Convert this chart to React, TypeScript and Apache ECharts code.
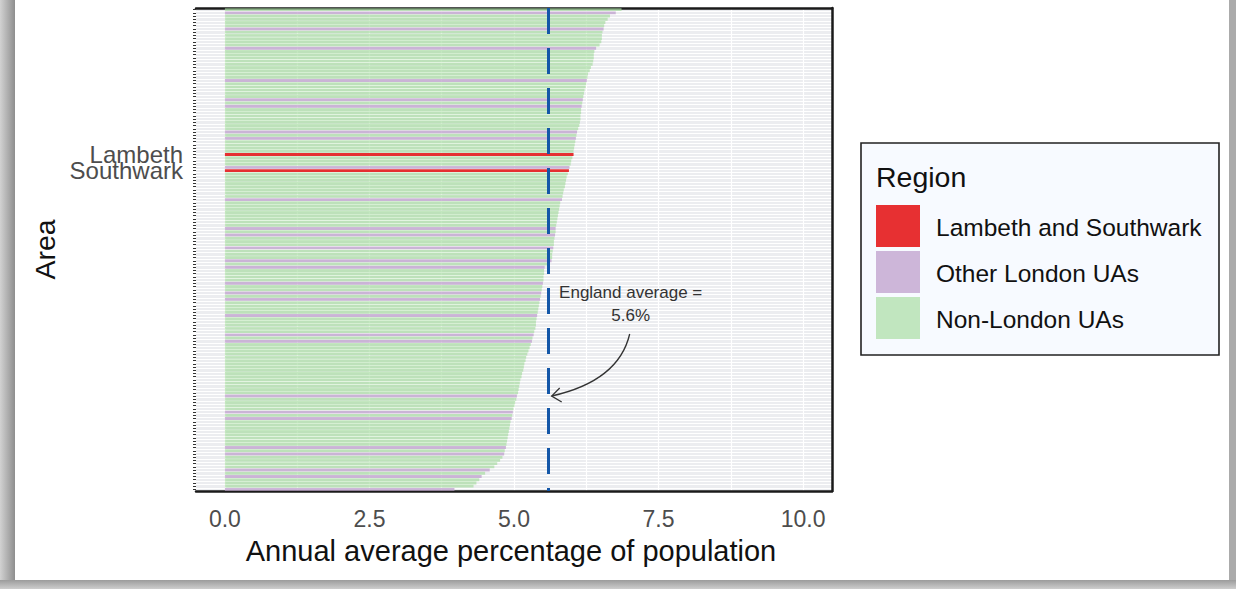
import React, { useEffect, useRef } from "react";
import * as echarts from "echarts";

const FONT = "'Liberation Sans', Arial, Helvetica, sans-serif";

// Annual average percentage of population for each unitary authority, highest first
const areaValues = [
  6.86, 6.76, 6.66, 6.62, 6.58, 6.56, 6.55, 6.53, 6.52, 6.52,
  6.51, 6.48, 6.42, 6.39, 6.38, 6.38, 6.37, 6.36, 6.33, 6.31,
  6.28, 6.27, 6.26, 6.25, 6.24, 6.22, 6.21, 6.2, 6.19, 6.18,
  6.17, 6.16, 6.16, 6.15, 6.15, 6.14, 6.13, 6.11, 6.09, 6.08,
  6.07, 6.06, 6.05, 6.04, 6.03, 6.03, 6.01, 5.99, 5.98, 5.96,
  5.95, 5.93, 5.91, 5.9, 5.89, 5.88, 5.86, 5.85, 5.84, 5.83,
  5.8, 5.79, 5.78, 5.77, 5.76, 5.75, 5.74, 5.73, 5.72, 5.72,
  5.71, 5.7, 5.69, 5.69, 5.68, 5.67, 5.66, 5.66, 5.65, 5.6,
  5.53, 5.52, 5.52, 5.51, 5.51, 5.5, 5.49, 5.48, 5.47, 5.46,
  5.45, 5.44, 5.43, 5.42, 5.41, 5.4, 5.39, 5.38, 5.38, 5.37,
  5.35, 5.34, 5.32, 5.31, 5.29, 5.27, 5.25, 5.23, 5.21, 5.2,
  5.18, 5.17, 5.16, 5.14, 5.13, 5.11, 5.1, 5.09, 5.08, 5.07,
  5.05, 5.04, 5.02, 5.01, 4.99, 4.98, 4.97, 4.96, 4.94, 4.93,
  4.92, 4.91, 4.9, 4.89, 4.88, 4.87, 4.86, 4.84, 4.83, 4.8,
  4.76, 4.71, 4.66, 4.58, 4.5, 4.44, 4.4, 4.35, 4.3, 3.97,
];

// Rows (in the ranking above) that are London boroughs other than Lambeth and Southwark
const otherLondonRows = [
  1, 6, 12, 22, 28, 30, 38, 40, 49, 59, 68, 70, 74, 78, 80, 85, 88, 90, 95,
  101, 103, 120, 125, 127, 136, 138, 143, 145, 149,
];

// Rows that are labelled on the area axis
const highlightedAreas: Record<number, string> = { 45: "Lambeth", 50: "Southwark" };

const englandAverage = 5.6;
const xTickValues = [0, 2.5, 5, 7.5, 10];
const xGridValues = [0, 1.25, 2.5, 3.75, 5, 6.25, 7.5, 8.75, 10];

const regionNames = ["Lambeth and Southwark", "Other London UAs", "Non-London UAs"];
const regionColors = ["#E41A1C", "#C2A5CF", "#A6DBA0"];
const regionOpacity = [0.9, 0.8, 0.68];

const areaIds = areaValues.map((_, i) => highlightedAreas[i] ?? `UA ${i + 1}`);

function regionOf(row: number): number {
  if (highlightedAreas[row] !== undefined) return 0;
  if (otherLondonRows.includes(row)) return 1;
  return 2;
}

const GRID = { left: 196, top: 8, width: 636, height: 483 };

function legendGraphic() {
  const children: any[] = [
    {
      type: "rect",
      shape: { x: 0, y: 0, width: 358, height: 212 },
      style: { fill: "#F7FAFF", stroke: "#222222", lineWidth: 1.6 },
    },
    {
      type: "text",
      x: 15,
      y: 34,
      style: {
        text: "Region",
        font: `28.5px ${FONT}`,
        fill: "#111111",
        verticalAlign: "middle",
      },
    },
  ];
  regionNames.forEach((name, i) => {
    const top = 62 + i * 46;
    children.push({
      type: "rect",
      shape: { x: 15, y: top, width: 44, height: 42 },
      style: { fill: regionColors[i], opacity: regionOpacity[i] },
    });
    children.push({
      type: "text",
      x: 75,
      y: top + 22,
      style: {
        text: name,
        font: `24.5px ${FONT}`,
        fill: "#111111",
        verticalAlign: "middle",
      },
    });
  });
  return { type: "group", x: 861, y: 143, children };
}

export default function App() {
  const ref = useRef<HTMLDivElement>(null);

  useEffect(() => {
    if (!ref.current) return;
    const chart = echarts.init(ref.current, null, { renderer: "svg" });

    const option: any = {
      animation: false,
      grid: {
        ...GRID,
        show: true,
        backgroundColor: "#ECEDF0",
        borderWidth: 0,
        containLabel: false,
      },
      xAxis: [
        {
          type: "value",
          min: -0.5,
          max: 10.5,
          position: "bottom",
          axisLine: { show: true, lineStyle: { color: "#1A1A1A", width: 2.5 } },
          axisTick: { show: false, customValues: xGridValues },
          axisLabel: {
            customValues: xTickValues,
            formatter: (v: number) => v.toFixed(1),
            fontSize: 23,
            fontFamily: FONT,
            color: "#4D4D4D",
            margin: 16,
          },
          splitLine: { show: true, lineStyle: { color: "#FFFFFF", width: 1.2 } },
        },
        {
          type: "value",
          min: -0.5,
          max: 10.5,
          position: "top",
          axisLine: { show: true, lineStyle: { color: "#1A1A1A", width: 2.5 } },
          axisTick: { show: false },
          axisLabel: { show: false },
          splitLine: { show: false },
        },
      ],
      yAxis: [
        {
          type: "category",
          data: areaIds,
          inverse: true,
          axisLine: { show: false, onZero: false },
          axisTick: {
            show: true,
            interval: 0,
            alignWithLabel: true,
            length: 3,
            lineStyle: { color: "#333333", width: 1 },
          },
          axisLabel: {
            interval: 0,
            formatter: (_v: string, i: number) => highlightedAreas[i] ?? "",
            fontSize: 24,
            fontFamily: FONT,
            color: "#4D4D4D",
            margin: 13,
            padding: [3, 0, 0, 0],
          },
          splitLine: { show: true, interval: 0, lineStyle: { color: "#FFFFFF", width: 1 } },
        },
        {
          type: "category",
          data: areaIds,
          inverse: true,
          position: "right",
          axisLine: { show: true, onZero: false, lineStyle: { color: "#1A1A1A", width: 2.5 } },
          axisTick: { show: false },
          axisLabel: { show: false },
          splitLine: { show: false },
        },
      ],
      series: [
        {
          type: "bar",
          xAxisIndex: 0,
          yAxisIndex: 0,
          barWidth: "90%",
          data: areaValues.map((v, i) => {
            const r = regionOf(i);
            return { value: v, itemStyle: { color: regionColors[r], opacity: regionOpacity[r] } };
          }),
          markLine: {
            silent: true,
            symbol: "none",
            label: { show: false },
            lineStyle: { color: "#1457A8", width: 3, type: [26, 14] },
            data: [{ xAxis: englandAverage }],
          },
        },
      ],
    };
    chart.setOption(option);

    // Annotation pointing at the England average line
    const lineX = chart.convertToPixel({ xAxisIndex: 0 }, englandAverage) as number;
    const tipX = lineX + 3;
    const tipY = 396;
    chart.setOption({
      graphic: [
        {
          type: "text",
          x: lineX + 82,
          y: 281,
          style: {
            text: `England average =\n${englandAverage}%`,
            font: `17px ${FONT}`,
            fill: "#333333",
            align: "center",
            verticalAlign: "top",
            lineHeight: 23,
          },
        },
        {
          type: "bezierCurve",
          shape: { x1: lineX + 81, y1: 334, cpx1: lineX + 70, cpy1: 381, x2: tipX, y2: tipY },
          style: { stroke: "#333333", lineWidth: 1.3, fill: "none" },
        },
        {
          type: "polyline",
          shape: { points: [[tipX + 8, tipY - 8], [tipX, tipY], [tipX + 10, tipY + 6]] },
          style: { stroke: "#333333", lineWidth: 1.3, fill: "none" },
        },
        {
          type: "text",
          x: 45,
          y: GRID.top + GRID.height / 2,
          rotation: Math.PI / 2,
          style: {
            text: "Area",
            font: `28.5px ${FONT}`,
            fill: "#111111",
            align: "center",
            verticalAlign: "middle",
          },
        },
        {
          type: "text",
          x: 511,
          y: 551,
          style: {
            text: "Annual average percentage of population",
            font: `29px ${FONT}`,
            fill: "#111111",
            align: "center",
            verticalAlign: "middle",
          },
        },
        legendGraphic(),
      ],
    });

    return () => chart.dispose();
  }, []);

  return (
    <div
      style={{
        position: "fixed",
        left: 0,
        top: 0,
        width: 1236,
        height: 589,
        background: "#ABABAB",
        overflow: "hidden",
      }}
    >
      <div
        style={{
          position: "absolute",
          left: 0,
          top: 0,
          width: 15,
          height: 589,
          background: "linear-gradient(to right, #d2d2d2, #8e8e8e)",
        }}
      />
      <div
        style={{
          position: "absolute",
          left: 0,
          top: 580,
          width: 1236,
          height: 9,
          background: "linear-gradient(to bottom, #9c9c9c, #cdcdcd)",
        }}
      />
      <div
        style={{
          position: "absolute",
          left: 15,
          top: 0,
          width: 1214,
          height: 580,
          background: "#FFFFFF",
        }}
      />
      <div ref={ref} style={{ position: "absolute", left: 0, top: 0, width: 1236, height: 589 }} />
    </div>
  );
}
